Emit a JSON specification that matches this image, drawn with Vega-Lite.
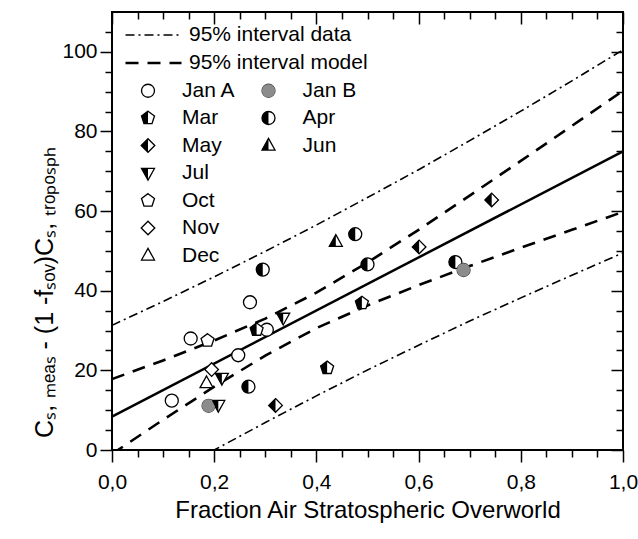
{
  "$schema": "https://vega.github.io/schema/vega-lite/v6.json",
  "width": 511,
  "height": 438,
  "autosize": {"type": "none"},
  "padding": {"left": 112, "top": 12, "right": 15, "bottom": 89},
  "background": "white",
  "datasets": {
    "fit": [{"x": 0, "y": 8.4}, {"x": 1, "y": 75}],
    "bands": [
      {"interval": "95% interval data", "bound": "du", "x": 0, "y": 31.3},
      {"interval": "95% interval data", "bound": "du", "x": 0.1, "y": 37.3},
      {"interval": "95% interval data", "bound": "du", "x": 0.2, "y": 43.5},
      {"interval": "95% interval data", "bound": "du", "x": 0.3, "y": 49.9},
      {"interval": "95% interval data", "bound": "du", "x": 0.4, "y": 56.5},
      {"interval": "95% interval data", "bound": "du", "x": 0.5, "y": 63.4},
      {"interval": "95% interval data", "bound": "du", "x": 0.6, "y": 70.4},
      {"interval": "95% interval data", "bound": "du", "x": 0.7, "y": 77.7},
      {"interval": "95% interval data", "bound": "du", "x": 0.8, "y": 85.1},
      {"interval": "95% interval data", "bound": "du", "x": 0.9, "y": 92.7},
      {"interval": "95% interval data", "bound": "du", "x": 1.0, "y": 100.5},
      {"interval": "95% interval data", "bound": "dl", "x": 0, "y": -14.5},
      {"interval": "95% interval data", "bound": "dl", "x": 0.1, "y": -7.1},
      {"interval": "95% interval data", "bound": "dl", "x": 0.2, "y": 0.0},
      {"interval": "95% interval data", "bound": "dl", "x": 0.3, "y": 6.9},
      {"interval": "95% interval data", "bound": "dl", "x": 0.4, "y": 13.6},
      {"interval": "95% interval data", "bound": "dl", "x": 0.5, "y": 20.1},
      {"interval": "95% interval data", "bound": "dl", "x": 0.6, "y": 26.3},
      {"interval": "95% interval data", "bound": "dl", "x": 0.7, "y": 32.4},
      {"interval": "95% interval data", "bound": "dl", "x": 0.8, "y": 38.2},
      {"interval": "95% interval data", "bound": "dl", "x": 0.9, "y": 43.9},
      {"interval": "95% interval data", "bound": "dl", "x": 1.0, "y": 49.5},
      {"interval": "95% interval model", "bound": "mu", "x": 0, "y": 17.8},
      {"interval": "95% interval model", "bound": "mu", "x": 0.1, "y": 22.5},
      {"interval": "95% interval model", "bound": "mu", "x": 0.2, "y": 27.5},
      {"interval": "95% interval model", "bound": "mu", "x": 0.3, "y": 33.0},
      {"interval": "95% interval model", "bound": "mu", "x": 0.4, "y": 39.5},
      {"interval": "95% interval model", "bound": "mu", "x": 0.5, "y": 47.1},
      {"interval": "95% interval model", "bound": "mu", "x": 0.6, "y": 55.3},
      {"interval": "95% interval model", "bound": "mu", "x": 0.7, "y": 63.9},
      {"interval": "95% interval model", "bound": "mu", "x": 0.8, "y": 72.6},
      {"interval": "95% interval model", "bound": "mu", "x": 0.9, "y": 81.4},
      {"interval": "95% interval model", "bound": "mu", "x": 1.0, "y": 90.2},
      {"interval": "95% interval model", "bound": "ml", "x": 0, "y": -1.0},
      {"interval": "95% interval model", "bound": "ml", "x": 0.1, "y": 7.6},
      {"interval": "95% interval model", "bound": "ml", "x": 0.2, "y": 15.9},
      {"interval": "95% interval model", "bound": "ml", "x": 0.3, "y": 23.7},
      {"interval": "95% interval model", "bound": "ml", "x": 0.4, "y": 30.6},
      {"interval": "95% interval model", "bound": "ml", "x": 0.5, "y": 36.3},
      {"interval": "95% interval model", "bound": "ml", "x": 0.6, "y": 41.4},
      {"interval": "95% interval model", "bound": "ml", "x": 0.7, "y": 46.2},
      {"interval": "95% interval model", "bound": "ml", "x": 0.8, "y": 50.8},
      {"interval": "95% interval model", "bound": "ml", "x": 0.9, "y": 55.3},
      {"interval": "95% interval model", "bound": "ml", "x": 1.0, "y": 59.8}
    ],
    "pts": [
      {"month": "Jan A", "x": 0.117, "y": 12.4},
      {"month": "Jan A", "x": 0.154, "y": 28.0},
      {"month": "Jan A", "x": 0.247, "y": 23.8},
      {"month": "Jan A", "x": 0.270, "y": 37.1},
      {"month": "Jan A", "x": 0.303, "y": 30.2},
      {"month": "Apr", "x": 0.267, "y": 15.9},
      {"month": "Apr", "x": 0.295, "y": 45.3},
      {"month": "Apr", "x": 0.476, "y": 54.2},
      {"month": "Apr", "x": 0.500, "y": 46.6},
      {"month": "Apr", "x": 0.672, "y": 47.2},
      {"month": "Jan B", "x": 0.189, "y": 11.1},
      {"month": "Jan B", "x": 0.688, "y": 45.2},
      {"month": "Mar", "x": 0.283, "y": 30.2},
      {"month": "Mar", "x": 0.489, "y": 36.9},
      {"month": "Mar", "x": 0.421, "y": 20.6},
      {"month": "May", "x": 0.320, "y": 11.2},
      {"month": "May", "x": 0.601, "y": 51.0},
      {"month": "May", "x": 0.743, "y": 62.8},
      {"month": "Jun", "x": 0.438, "y": 52.3},
      {"month": "Jul", "x": 0.215, "y": 18.1},
      {"month": "Jul", "x": 0.208, "y": 11.3},
      {"month": "Jul", "x": 0.335, "y": 33.2},
      {"month": "Oct", "x": 0.187, "y": 27.5},
      {"month": "Nov", "x": 0.195, "y": 20.2},
      {"month": "Dec", "x": 0.185, "y": 16.8}
    ]
  },
  "layer": [
    {
      "data": {"name": "fit"},
      "mark": {"type": "line", "color": "black", "strokeWidth": 2.5},
      "encoding": {
        "x": {
          "field": "x", "type": "quantitative",
          "scale": {"domain": [0, 1], "nice": false, "zero": false},
          "axis": {
            "orient": "bottom",
            "values": [0, 0.05, 0.1, 0.15, 0.2, 0.25, 0.3, 0.35, 0.4, 0.45, 0.5, 0.55, 0.6, 0.65, 0.7, 0.75, 0.8, 0.85, 0.9, 0.95, 1],
            "labelExpr": "round(datum.value*100) % 20 === 0 ? replace(format(datum.value, '.1f'), '.', ',') : ''",
            "tickSize": {"condition": {"test": "round(datum.value*100) % 20 === 0", "value": 12}, "value": 7},
            "labelPadding": 9,
            "labelFlush": false,
            "labelOverlap": false,
            "title": "Fraction Air Stratospheric Overworld",
            "titleFontSize": 24,
            "titleY": 67,
            "titleBaseline": "alphabetic"
          }
        },
        "y": {
          "field": "y", "type": "quantitative",
          "scale": {"domain": [0, 110], "nice": false, "zero": false},
          "axis": {
            "orient": "left",
            "values": [0, 5, 10, 15, 20, 25, 30, 35, 40, 45, 50, 55, 60, 65, 70, 75, 80, 85, 90, 95, 100, 105],
            "labelExpr": "datum.value % 20 === 0 ? datum.label : ''",
            "tickSize": {"condition": {"test": "datum.value % 20 === 0", "value": 12}, "value": 7},
            "labelPadding": 3,
            "labelOverlap": false,
            "labelFlush": false,
            "title": "Cₛ, ₘₑₐₛ - (1 -fₛₒᵥ)Cₛ, ₜᵣₒₚₒₛₚₕ",
            "titleFontSize": 25,
            "titleAngle": -90,
            "titleX": -68,
            "titleY": 280,
            "titleAlign": "center",
            "titleBaseline": "middle"
          }
        }
      }
    },
    {
      "data": {"name": "bands"},
      "mark": {"type": "line", "clip": true, "color": "black"},
      "encoding": {
        "x": {
          "field": "x", "type": "quantitative",
          "scale": {"domain": [0, 1], "nice": false, "zero": false},
          "axis": {
            "orient": "top",
            "values": [0, 0.05, 0.1, 0.15, 0.2, 0.25, 0.3, 0.35, 0.4, 0.45, 0.5, 0.55, 0.6, 0.65, 0.7, 0.75, 0.8, 0.85, 0.9, 0.95, 1],
            "labels": false,
            "title": null,
            "tickSize": {"condition": {"test": "round(datum.value*100) % 20 === 0", "value": -12}, "value": -7}
          }
        },
        "y": {
          "field": "y", "type": "quantitative",
          "scale": {"domain": [0, 110], "nice": false, "zero": false},
          "axis": {
            "orient": "right",
            "values": [0, 5, 10, 15, 20, 25, 30, 35, 40, 45, 50, 55, 60, 65, 70, 75, 80, 85, 90, 95, 100, 105],
            "labels": false,
            "title": null,
            "tickSize": {"condition": {"test": "datum.value % 20 === 0", "value": -12}, "value": -7}
          }
        },
        "detail": {"field": "bound", "type": "nominal"},
        "strokeDash": {
          "field": "interval", "type": "nominal",
          "scale": {"domain": ["95% interval data", "95% interval model"], "range": [[9, 4, 2, 4], [13, 9]]},
          "legend": {
            "orient": "none", "legendX": 31, "legendY": 12.5,
            "title": null,
            "symbolType": "M-4,0L4,0",
            "symbolSize": 196,
            "symbolStrokeColor": "black",
            "symbolStrokeWidth": 2,
            "labelOffset": 25,
            "labelLimit": 400,
            "rowPadding": 6
          }
        },
        "strokeWidth": {
          "field": "interval", "type": "nominal",
          "scale": {"type": "ordinal", "domain": ["95% interval data", "95% interval model"], "range": [1.6, 2.6]},
          "legend": {
            "orient": "none", "legendX": 31, "legendY": 12.5,
            "title": null,
            "symbolType": "M-4,0L4,0",
            "symbolSize": 196,
            "symbolStrokeColor": "black",
            "symbolStrokeWidth": 2,
            "labelOffset": 25,
            "labelLimit": 400,
            "rowPadding": 6
          }
        }
      }
    },
    {
      "data": {"name": "pts"},
      "mark": {"type": "point", "filled": false, "fill": "white", "strokeWidth": 1.3, "size": 169, "opacity": 1},
      "encoding": {
        "x": {"field": "x", "type": "quantitative", "scale": {"domain": [0, 1], "nice": false, "zero": false}, "axis": null},
        "y": {"field": "y", "type": "quantitative", "scale": {"domain": [0, 110], "nice": false, "zero": false}, "axis": null},
        "stroke": {
          "field": "month", "type": "nominal",
          "scale": {
            "domain": ["Jan A", "Jan B", "Mar", "Apr", "May", "Jun", "Jul", "_1", "Oct", "_2", "Nov", "_3", "Dec"],
            "range": ["black", "#444444", "black", "black", "black", "black", "black", "black", "black", "black", "black", "black", "black"]
          },
          "legend": {
            "orient": "none", "legendX": 25.5, "legendY": 68,
            "title": null,
            "direction": "horizontal",
            "columns": 2,
            "symbolSize": 169,
            "symbolStrokeWidth": 1.3,
            "labelOffset": 23.5,
            "rowPadding": 5.5,
            "columnPadding": 21.5,
            "labelExpr": "substring(datum.label, 0, 1) === '_' ? '' : datum.label"
          }
        },
        "shape": {
          "field": "month", "type": "nominal",
          "scale": {
            "domain": ["Jan A", "Jan B", "Mar", "Apr", "May", "Jun", "Jul", "_1", "Oct", "_2", "Nov", "_3", "Dec"],
            "range": [
              "M1,0A1,1,0,1,1,-1,0A1,1,0,1,1,1,0Z",
              "M1,0A1,1,0,1,1,-1,0A1,1,0,1,1,1,0Z",
              "M0,-1.05L1,-0.32L0.62,0.85L-0.62,0.85L-1,-0.32Z",
              "M1,0A1,1,0,1,1,-1,0A1,1,0,1,1,1,0Z",
              "M0,-1.05L1.05,0L0,1.05L-1.05,0Z",
              "M0,-1.1L1,0.7L-1,0.7Z",
              "M-1,-0.7L1,-0.7L0,1.1Z",
              "M0,0",
              "M0,-1.05L1,-0.32L0.62,0.85L-0.62,0.85L-1,-0.32Z",
              "M0,0",
              "M0,-1.05L1.05,0L0,1.05L-1.05,0Z",
              "M0,0",
              "M0,-1.1L1,0.7L-1,0.7Z"
            ]
          },
          "legend": {
            "orient": "none", "legendX": 25.5, "legendY": 68,
            "title": null,
            "direction": "horizontal",
            "columns": 2,
            "symbolSize": 169,
            "symbolStrokeWidth": 1.3,
            "labelOffset": 23.5,
            "rowPadding": 5.5,
            "columnPadding": 21.5,
            "labelExpr": "substring(datum.label, 0, 1) === '_' ? '' : datum.label"
          }
        }
      }
    },
    {
      "data": {"name": "pts"},
      "mark": {"type": "point", "filled": true, "strokeWidth": 0, "size": 169, "opacity": 1},
      "encoding": {
        "x": {"field": "x", "type": "quantitative", "scale": {"domain": [0, 1], "nice": false, "zero": false}, "axis": null},
        "y": {"field": "y", "type": "quantitative", "scale": {"domain": [0, 110], "nice": false, "zero": false}, "axis": null},
        "fill": {
          "field": "month", "type": "nominal",
          "scale": {
            "domain": ["Jan A", "Jan B", "Mar", "Apr", "May", "Jun", "Jul", "_1", "Oct", "_2", "Nov", "_3", "Dec"],
            "range": ["black", "#8c8c8c", "black", "black", "black", "black", "black", "black", "black", "black", "black", "black", "black"]
          },
          "legend": {
            "orient": "none", "legendX": 25.5, "legendY": 68,
            "title": null,
            "direction": "horizontal",
            "columns": 2,
            "symbolSize": 169,
            "symbolStrokeWidth": 0,
            "labelOffset": 23.5,
            "rowPadding": 5.5,
            "columnPadding": 21.5,
            "labelOpacity": 0,
            "labelExpr": "substring(datum.label, 0, 1) === '_' ? '' : datum.label"
          }
        },
        "shape": {
          "field": "month", "type": "nominal",
          "scale": {
            "domain": ["Jan A", "Jan B", "Mar", "Apr", "May", "Jun", "Jul", "_1", "Oct", "_2", "Nov", "_3", "Dec"],
            "range": [
              "M0,0",
              "M1,0A1,1,0,1,1,-1,0A1,1,0,1,1,1,0Z",
              "M0,-1.05L-1,-0.32L-0.62,0.85L0,0.85Z",
              "M0,-1A1,1,0,0,0,0,1Z",
              "M0,-1.05L-1.05,0L0,1.05Z",
              "M0,-1.1L-1,0.7L0,0.7Z",
              "M-1,-0.7L0,-0.7L0,1.1Z",
              "M0,0",
              "M0,0",
              "M0,0",
              "M0,0",
              "M0,0",
              "M0,0"
            ]
          },
          "legend": {
            "orient": "none", "legendX": 25.5, "legendY": 68,
            "title": null,
            "direction": "horizontal",
            "columns": 2,
            "symbolSize": 169,
            "symbolStrokeWidth": 0,
            "labelOffset": 23.5,
            "rowPadding": 5.5,
            "columnPadding": 21.5,
            "labelOpacity": 0,
            "labelExpr": "substring(datum.label, 0, 1) === '_' ? '' : datum.label"
          }
        }
      }
    }
  ],
  "resolve": {
    "scale": {"shape": "independent", "fill": "independent", "stroke": "independent"},
    "axis": {"x": "independent", "y": "independent"},
    "legend": {"shape": "independent", "fill": "independent", "stroke": "independent"}
  },
  "config": {
    "font": "Liberation Sans",
    "view": {"stroke": "black", "strokeWidth": 2},
    "axis": {
      "domain": false,
      "grid": false,
      "tickColor": "black",
      "tickWidth": 1.5,
      "labelColor": "black",
      "labelFont": "Liberation Sans",
      "labelFontSize": 21,
      "titleFont": "Liberation Sans",
      "titleFontWeight": "normal",
      "titleColor": "black"
    },
    "legend": {
      "padding": 0,
      "labelFont": "Liberation Sans",
      "labelFontSize": 21,
      "labelColor": "black",
      "symbolLimit": 0
    }
  }
}
